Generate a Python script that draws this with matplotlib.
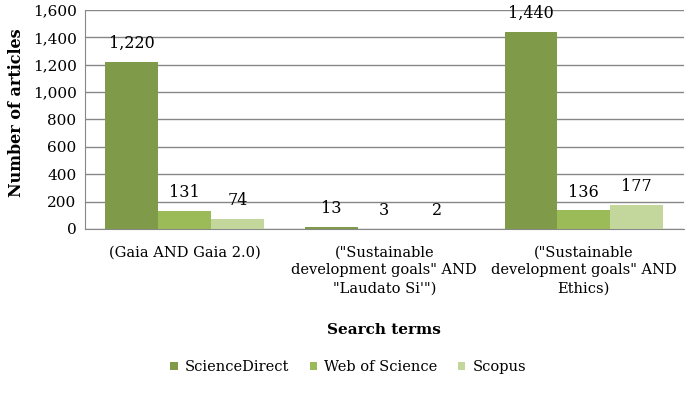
import matplotlib.pyplot as plt
import numpy as np

# 데이터
search_terms = ['(Gaia AND Gaia 2.0)',
                '("Sustainable\ndevelopment goals" AND\n"Laudato Si\'")',
                '("Sustainable\ndevelopment goals" AND\nEthics)']
databases = ['ScienceDirect', 'Web of Science', 'Scopus']
science_direct = [1220, 13, 1440]
web_of_science = [131, 3, 136]
scopus = [74, 2, 177]

plt.rcParams['font.family'] = ['DejaVu Serif']

colors = ['#7F9A48', '#9BBB59', '#C3D69B']
series = [science_direct, web_of_science, scopus]

fig = plt.figure(figsize=(6.85, 4.17), dpi=100)
ax = fig.add_axes([0.124, 0.451, 0.874, 0.525])

x = np.arange(len(search_terms))
width = 0.265

for i, (name, vals) in enumerate(zip(databases, series)):
    bars = ax.bar(x + (i - 1) * width, vals, width, color=colors[i], label=name, zorder=3)
    # 막대 위에 값 표시
    for bar in bars:
        h = bar.get_height()
        ax.annotate(f'{h:,.0f}', (bar.get_x() + bar.get_width() / 2, h),
                    xytext=(0, 7), textcoords='offset points',
                    ha='center', va='bottom', fontsize=11.5)

ax.set_xlim(-0.5, 2.5)
ax.set_ylim(0, 1600)
ax.set_yticks(range(0, 1601, 200))
ax.set_yticklabels([f'{v:,}' for v in range(0, 1601, 200)], fontsize=11)
ax.set_xticks(x)
ax.set_xticklabels(search_terms, fontsize=10.5, linespacing=1.35)
ax.tick_params(axis='both', length=0, pad=6)
ax.tick_params(axis='x', pad=12)

ax.grid(axis='y', color='#878787', linewidth=1, zorder=0)
for s in ['top', 'right']:
    ax.spines[s].set_visible(False)
ax.spines['left'].set_color('#878787')
ax.spines['bottom'].set_color('#878787')

ax.set_ylabel('Number of articles', fontsize=11.5, fontweight='bold')
ax.yaxis.set_label_coords(-0.1, 0.53)
ax.set_xlabel('Search terms', fontsize=11, fontweight='bold', labelpad=20)

ax.legend(loc='upper center', bbox_to_anchor=(0.44, -0.54), ncol=3, frameon=False,
          fontsize=10.5, handlelength=0.5, handleheight=0.5, columnspacing=1.4,
          handletextpad=0.5)

plt.savefig('out.png', dpi=100)
